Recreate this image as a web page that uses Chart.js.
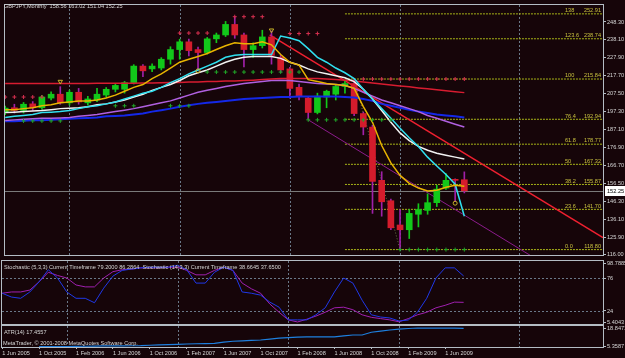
<!DOCTYPE html>
<html>
<head>
<meta charset="utf-8">
<script src="https://cdn.jsdelivr.net/npm/chart.js@4.4.0/dist/chart.umd.min.js"></script>
<style>
  body { margin: 0; background: #160509; width: 625px; height: 358px; overflow: hidden; position: relative; }
  canvas { position: absolute; left: 0; }
</style>
</head>
<body>
<canvas id="mainChart" width="625" height="260" style="top:0px"></canvas>
<canvas id="stochChart" width="625" height="65" style="top:260px"></canvas>
<canvas id="atrChart" width="625" height="33" style="top:325px"></canvas>
<script>
// GBPJPY monthly, bar 0 = Jun 2005 ... bar 50 = Aug 2009
const OPEN  = [197.0, 199.5, 198.0, 201.7, 199.5, 205.0, 207.2, 202.3, 208.3, 202.3,
               203.9, 206.7, 210.0, 210.0, 213.8, 223.2, 221.6, 222.1, 227.1, 232.6,
               237.0, 232.6, 230.9, 238.7, 240.9, 246.9, 240.9, 232.6, 234.8, 239.8,
               228.2, 221.6, 211.1, 205.0, 196.8, 205.6, 207.2, 211.6, 213.3, 196.2,
               188.5, 158.2, 146.6, 132.8, 130.1, 138.9, 141.1, 145.5, 153.8, 158.5, 158.56];
const HIGH  = [200.5, 201.5, 202.5, 203.0, 206.5, 208.5, 211.5, 209.5, 210.5, 206.0,
               210.5, 211.0, 213.0, 214.5, 224.0, 224.0, 224.5, 228.0, 234.2, 238.5,
               238.5, 234.0, 239.5, 242.0, 248.6, 251.3, 242.0, 236.5, 243.6, 243.1,
               229.5, 222.5, 213.0, 206.0, 207.8, 209.5, 212.2, 214.5, 215.84, 197.0,
               189.5, 163.1, 147.5, 141.6, 141.6, 144.9, 150.5, 155.4, 162.0, 159.0, 163.02];
const LOW   = [195.5, 196.5, 196.5, 198.0, 198.5, 204.0, 201.5, 201.0, 201.5, 201.0,
               203.0, 205.5, 208.5, 207.8, 213.0, 217.2, 220.0, 221.0, 224.3, 227.1,
               229.0, 221.0, 230.0, 236.5, 240.0, 239.0, 222.7, 228.2, 233.5, 224.3,
               219.5, 205.0, 204.0, 192.9, 196.0, 199.5, 203.9, 207.8, 195.0, 184.1,
               139.4, 137.8, 130.1, 118.8, 125.1, 131.7, 138.9, 143.3, 153.0, 146.0, 151.04];
const CLOSE = [199.3, 198.0, 201.5, 199.5, 205.6, 207.2, 202.3, 208.3, 202.8, 204.5,
               207.2, 210.0, 212.2, 213.8, 223.2, 220.5, 223.2, 227.1, 232.6, 237.0,
               232.0, 230.9, 238.7, 240.9, 246.9, 240.9, 232.6, 234.8, 239.8, 229.3,
               221.0, 210.5, 206.1, 196.8, 206.1, 208.9, 211.6, 213.3, 196.2, 188.5,
               157.6, 146.0, 131.2, 130.1, 139.4, 141.6, 145.5, 153.2, 158.2, 158.2, 152.25];

// moving averages on the price panel
const MA_YELLOW = [198.4, 198.4, 199.0, 199.5, 200.6, 201.2, 202.3, 202.8, 203.4, 203.4,
                   203.9, 205.0, 206.7, 208.9, 211.1, 212.7, 216.1, 218.8, 222.1, 225.4,
                   227.1, 228.7, 230.4, 232.6, 234.8, 236.5, 235.9, 235.9, 237.0, 235.3,
                   229.8, 225.4, 223.8, 215.5, 214.4, 213.3, 212.7, 212.2, 210.5, 200.1,
                   191.2, 178.0, 168.1, 161.0, 156.5, 153.8, 152.1, 152.6, 154.3, 155.4, 154.9];
const MA_WHITE  = [196.8, 197.0, 197.3, 197.6, 197.9, 198.4, 199.0, 199.2, 199.5, 200.1,
                   201.2, 201.7, 202.8, 203.9, 205.6, 207.2, 209.4, 211.1, 212.7, 215.0,
                   217.7, 219.4, 221.0, 223.2, 225.4, 227.1, 228.2, 228.7, 228.7, 228.7,
                   227.6, 225.4, 223.8, 221.6, 219.9, 218.8, 217.7, 216.6, 214.4, 210.0,
                   204.5, 197.9, 191.2, 185.2, 180.8, 177.5, 175.3, 173.6, 172.5, 171.4, 170.3];
const MA_CYAN   = [194.0, 194.6, 195.1, 195.7, 196.8, 197.0, 197.3, 197.9, 199.0, 200.1,
                   200.6, 201.7, 202.8, 204.5, 206.1, 207.8, 208.9, 211.1, 213.8, 216.1,
                   218.8, 221.0, 223.2, 225.4, 228.2, 229.3, 229.8, 229.8, 229.8, 229.8,
                   240.3, 239.2, 237.6, 233.1, 228.2, 225.4, 222.1, 219.4, 216.1, 210.0,
                   204.5, 199.0, 193.5, 187.9, 182.4, 177.5, 171.4, 166.4, 161.5, 156.0, 137.8];
const MA_PURPLE = [192.3, 192.6, 192.9, 193.2, 193.5, 193.5, 193.7, 194.0, 194.6, 195.1,
                   195.7, 196.5, 197.3, 198.1, 199.0, 200.1, 201.2, 202.3, 203.4, 205.0,
                   206.7, 208.3, 209.4, 210.5, 211.6, 212.5, 213.3, 213.8, 214.4, 215.0,
                   215.2, 215.0, 214.4, 213.8, 213.3, 213.0, 212.7, 212.2, 210.5, 208.3,
                   206.1, 203.9, 202.3, 200.6, 199.0, 197.3, 195.1, 193.5, 191.8, 190.1, 188.5];
const MA_BLUE   = [191.8, 191.8, 192.1, 192.4, 192.4, 192.6, 192.9, 193.2, 193.5, 193.7,
                   194.0, 194.6, 194.8, 195.1, 195.7, 196.2, 197.3, 198.1, 199.0, 200.1,
                   200.9, 201.7, 202.3, 202.8, 203.4, 203.9, 204.5, 204.8, 205.0, 205.3,
                   205.6, 205.6, 205.9, 205.9, 205.9, 205.9, 205.9, 205.6, 205.3, 204.5,
                   203.4, 201.7, 200.6, 199.5, 198.4, 197.3, 196.5, 195.7, 195.1, 194.6, 194.0];
const MA_RED    = [213.3, 213.3, 213.3, 213.3, 213.3, 213.3, 213.3, 213.3, 213.3, 213.3,
                   213.4, 213.4, 213.4, 213.5, 213.5, 213.6, 213.6, 213.7, 213.8, 213.85,
                   214.1, 214.1, 214.4, 214.4, 214.7, 214.7, 215.0, 215.2, 215.5, 215.8,
                   216.1, 216.1, 216.1, 216.1, 216.1, 215.8, 215.5, 215.2, 214.7, 214.1,
                   213.6, 213.0, 212.5, 211.9, 211.4, 210.8, 210.3, 209.7, 209.2, 208.6, 208.1];

// lower panels
const STOCH_FAST = [52, 46, 44, 54, 70, 89, 76, 54, 44, 44,
                    37, 60, 79, 88, 90, 92, 93, 93, 93, 96,
                    89, 68, 68, 85, 93, 88, 54, 52, 49, 38,
                    30, 10, 10, 10, 18, 29, 54, 76, 68, 41,
                    18, 14.5, 13, 8.2, 9.8, 22, 44, 76, 92, 92, 79.2];
const STOCH_SLOW = [52, 54, 54, 57, 70, 85, 80, 76, 65, 62,
                    62, 76, 86, 89, 90, 92, 92, 92, 93, 93,
                    88, 81, 81, 88, 93, 88, 68, 59, 52, 35,
                    22, 10, 6.7, 11, 16, 22, 29, 30, 26, 18,
                    14, 12, 10, 7, 12, 18, 22, 29, 33, 38, 37.65];
const ATR = [null, null, null, null, 5.36, 5.4, 5.45, 5.5, 5.6, 5.7,
             5.8, 5.9, 6.0, 6.0, 6.05, 6.1, 6.4, 6.7, 6.9, 7.1,
             7.3, 7.5, 7.6, 7.8, 8.6, 9.3, 9.6, 9.9, 10.2, 10.8,
             11.5, 11.9, 12.2, 12.4, 12.4, 12.4, 12.5, 13.2, 13.8, 13.8,
             15.8, 16.6, 17.4, 18.1, 18.5, 18.85, 18.8, 18.8, 18.75, 18.7, 18.6];

// axes
const X_LABELS = ['1 Jun 2005', '1 Oct 2005', '1 Feb 2006', '1 Jun 2006', '1 Oct 2006', '1 Feb 2007',
                  '1 Jun 2007', '1 Oct 2007', '1 Feb 2008', '1 Jun 2008', '1 Oct 2008', '1 Feb 2009', '1 Jun 2009'];
const X_LABEL_BARS = [0, 4, 8, 12, 16, 20, 24, 28, 32, 36, 40, 44, 48];
const YEAR_LINES = [7, 19, 31, 43, 56];
const PRICE_TICKS = [248.30, 238.10, 227.90, 217.70, 207.50, 197.30, 187.10, 176.90,
                     166.70, 156.50, 146.30, 136.10, 125.90, 116.00];
const STOCH_TICKS = [98.7885, 76, 24, 5.4043];
const STOCH_LEVELS = [76, 24];
const ATR_TICKS = [18.8471, 5.3587];

// objects on the chart
const FIB_RATIOS = ['138', '123.6', '100', '76.4', '61.8', '50', '38.2', '23.6', '0.0'];
const FIB_PRICES = [252.91, 238.74, 215.84, 192.94, 178.77, 167.32, 155.87, 141.70, 118.80];
const FIB_START = 37;
const RED_TREND = [[28.8, 240.9], [65.1, 125.6]];
const PURPLE_TREND = [[33, 192.6], [57.5, 114.5]];
const ZIGZAG = [[38, 215.84], [43, 118.80]];
const RES_DOTS = [[0, 205.6], [1, 205.6], [2, 205.6], [3, 205.6], [4, 205.6],
                  [19, 242.0], [20, 242.0], [21, 242.0], [22, 242.0],
                  [25, 251.3], [26, 251.3], [27, 251.3], [28, 251.3],
                  [31, 241.7], [32, 241.7], [33, 241.7], [34, 241.7],
                  [39, 215.84], [40, 215.84], [41, 215.84], [42, 215.84], [43, 215.84], [44, 215.84],
                  [45, 215.84], [46, 215.84], [47, 215.84], [48, 215.84], [49, 215.84], [50, 215.84]];
const SUP_DOTS = [[2, 192.0], [3, 192.0], [4, 192.0], [5, 192.0], [6, 192.0],
                  [12, 200.6], [13, 200.6], [14, 200.6], [18, 200.6], [19, 200.6], [20, 200.6],
                  [22, 219.8], [23, 219.8], [24, 219.8], [25, 219.8], [26, 219.8], [27, 219.8],
                  [28, 219.8], [29, 219.8], [30, 219.8], [31, 219.8], [32, 219.8],
                  [33, 192.6], [34, 192.6], [35, 192.6], [36, 192.6], [37, 192.6], [38, 192.6],
                  [39, 192.6], [40, 192.6], [41, 192.6], [42, 192.6],
                  [43, 118.8], [44, 118.8], [45, 118.8], [46, 118.8], [47, 118.8], [48, 118.8],
                  [49, 118.8], [50, 118.8]];
const FRACTALS = [[6, 214.4], [29, 243.6]];
const CIRCLES = [[21, 220.5], [49, 145.2]];

const X_MIN = -0.02, X_MAX = 65.1;
const FONT = { family: 'Liberation Sans', size: 5.6 };
const FONT_STR = '5.6px "Liberation Sans"';
const TXT = '#d6d6d6';
const FRAME = '#b4bcc4';
const GRID = '#6a7888';
const BULL = '#12c81a', BEAR = '#d41c2c', BEAR_WICK = '#a020a8';

const pts = arr => arr.map((v, i) => ({ x: i, y: v }));
const pairs = arr => arr.map(([x, y]) => ({ x, y }));
const up = CLOSE.map((c, i) => c >= OPEN[i]);
const last = CLOSE.length - 1;

function yAxis(min, max, ticks, fmt) {
  return {
    position: 'right', min, max,
    afterBuildTicks: s => { s.ticks = ticks.map(v => ({ value: v })); },
    afterFit: s => { s.width = 22; s.paddingTop = 0; s.paddingBottom = 0; },
    grid: { drawOnChartArea: false, drawTicks: true, tickLength: 3, color: FRAME },
    border: { color: FRAME },
    ticks: { color: TXT, font: FONT, padding: 1, autoSkip: false, callback: fmt }
  };
}

function xAxis(show) {
  return {
    type: 'linear', min: X_MIN, max: X_MAX, offset: false, display: show,
    afterBuildTicks: s => { s.ticks = X_LABEL_BARS.map(v => ({ value: v })); },
    afterFit: s => {
      if (!show) return;
      s.height = 11; s.paddingLeft = 0; s.paddingRight = 0;
    },
    grid: { drawOnChartArea: false, drawTicks: true, tickLength: 2, color: FRAME },
    border: { color: FRAME },
    ticks: { color: TXT, font: FONT, padding: 1, align: 'start', maxRotation: 0, autoSkip: false,
             callback: (v, i) => X_LABELS[i] }
  };
}

// year grid, level lines, frame and texts of a panel
function panelPlugin(opts) {
  return {
    id: 'panel',
    beforeDatasetsDraw(chart) {
      const { ctx, chartArea: a, scales } = chart;
      ctx.save();
      ctx.strokeStyle = GRID;
      ctx.lineWidth = 1;
      ctx.setLineDash([2, 2]);
      YEAR_LINES.forEach(v => {
        const x = Math.round(scales.x.getPixelForValue(v)) + 0.5;
        ctx.beginPath(); ctx.moveTo(x, a.top); ctx.lineTo(x, a.bottom); ctx.stroke();
      });
      (opts.levels || []).forEach(v => {
        const y = Math.round(scales.y.getPixelForValue(v)) + 0.5;
        ctx.beginPath(); ctx.moveTo(a.left, y); ctx.lineTo(a.right, y); ctx.stroke();
      });
      ctx.setLineDash([]);
      if (opts.priceLine != null) {
        const y = Math.round(scales.y.getPixelForValue(opts.priceLine)) + 0.5;
        ctx.strokeStyle = '#7a7a7a';
        ctx.beginPath(); ctx.moveTo(a.left, y); ctx.lineTo(a.right, y); ctx.stroke();
      }
      ctx.restore();
    },
    afterDraw(chart) {
      const { ctx, chartArea: a, scales } = chart;
      ctx.save();
      ctx.strokeStyle = FRAME;
      ctx.lineWidth = 1;
      ctx.strokeRect(a.left - 0.5, a.top - 0.5, a.right - a.left + 1, a.bottom - a.top + 1);
      ctx.font = FONT_STR;
      ctx.fillStyle = TXT;
      ctx.textBaseline = 'middle';
      (opts.texts || []).forEach(([t, x, y]) => ctx.fillText(t, x, y));
      if (opts.fib) {
        ctx.fillStyle = '#c8c040';
        ctx.textBaseline = 'bottom';
        FIB_PRICES.forEach((p, k) => {
          const y = scales.y.getPixelForValue(p) - 0.5;
          ctx.textAlign = 'left';
          ctx.fillText(FIB_RATIOS[k], a.right - 38, y);
          ctx.textAlign = 'right';
          ctx.fillText(p.toFixed(2), a.right - 2, y);
        });
      }
      if (opts.priceLine != null) {
        const y = Math.round(scales.y.getPixelForValue(opts.priceLine));
        ctx.fillStyle = '#ffffff';
        ctx.fillRect(a.right + 2, y - 5, 20, 10);
        ctx.fillStyle = '#000000';
        ctx.textAlign = 'left';
        ctx.textBaseline = 'middle';
        ctx.fillText(opts.priceLine.toFixed(2), a.right + 4, y + 0.5);
      }
      ctx.restore();
    }
  };
}

const common = {
  responsive: false,
  animation: false,
  events: [],
  plugins: { legend: { display: false }, tooltip: { enabled: false } }
};

function line(data, color, width, order, extra) {
  return Object.assign({ type: 'line', data, borderColor: color, borderWidth: width,
    pointRadius: 0, tension: 0, fill: false, order }, extra || {});
}
function dots(data, color, style, order) {
  return { type: 'line', data, showLine: false, pointStyle: style, pointRadius: 2,
    pointBorderWidth: 1, pointBorderColor: color, pointBackgroundColor: color, order };
}

// price panel
const fibSets = FIB_PRICES.map(p => line([{ x: FIB_START, y: p }, { x: X_MAX, y: p }],
  '#a8b418', 1, 20, { borderDash: [2, 1] }));

new Chart(document.getElementById('mainChart'), {
  type: 'bar',
  data: {
    datasets: [
      ...fibSets,
      line(pairs(RED_TREND), '#ee2030', 1.5, 15),
      line(pairs(PURPLE_TREND), '#8c1c8c', 1, 15),
      line(pairs(ZIGZAG), '#6f7a4a', 1, 15, { borderDash: [1, 2] }),
      { type: 'bar', order: 12, grouped: false, barThickness: 1,
        data: LOW.map((l, i) => ({ x: i, y: [l, HIGH[i]] })),
        backgroundColor: up.map(u => u ? BULL : BEAR_WICK) },
      { type: 'bar', order: 11, grouped: false, barThickness: 6, minBarLength: 1,
        data: OPEN.map((o, i) => ({ x: i, y: [o, CLOSE[i]] })),
        backgroundColor: up.map(u => u ? BULL : BEAR) },
      line(pts(MA_BLUE), '#1428e8', 2, 6),
      line(pts(MA_PURPLE), '#b060e0', 1.5, 5),
      line(pts(MA_RED), '#d81c30', 1.5, 4),
      line(pts(MA_WHITE), '#f2f2f2', 1.5, 3),
      line(pts(MA_CYAN), '#30e0f0', 1.5, 2),
      line(pts(MA_YELLOW), '#e8b400', 1.5, 1),
      dots(pairs(RES_DOTS), '#d83050', 'cross', 0),
      dots(pairs(SUP_DOTS), '#20a828', 'cross', 0),
      { type: 'line', data: pairs(FRACTALS), showLine: false, pointStyle: 'triangle', rotation: 180,
        pointRadius: 2.5, pointBorderWidth: 1, pointBorderColor: '#c8b428', pointBackgroundColor: 'transparent', order: 0 },
      { type: 'line', data: pairs(CIRCLES), showLine: false, pointStyle: 'circle',
        pointRadius: 2, pointBorderWidth: 1, pointBorderColor: '#c8b428', pointBackgroundColor: 'transparent', order: 0 }
    ]
  },
  options: Object.assign({}, common, {
    layout: { padding: { left: 2, top: 1, bottom: 1, right: 0 } },
    scales: {
      x: xAxis(false),
      y: yAxis(115.73, 257.95, PRICE_TICKS, v => v.toFixed(2))
    }
  }),
  plugins: [panelPlugin({
    fib: true,
    priceLine: CLOSE[last],
    texts: [['GBPJPY,Monthly  ' + [OPEN[last], HIGH[last], LOW[last], CLOSE[last]].map(v => v.toFixed(2)).join(' '), 4, 6]]
  })]
});

// stochastic panel
new Chart(document.getElementById('stochChart'), {
  type: 'line',
  data: {
    datasets: [
      line(pts(STOCH_SLOW), '#a020b0', 1, 2),
      line(pts(STOCH_FAST), '#2038e8', 1, 1)
    ]
  },
  options: Object.assign({}, common, {
    layout: { padding: { left: 2, top: 1, bottom: 1, right: 0 } },
    scales: {
      x: xAxis(false),
      y: yAxis(3.5, 102.8, STOCH_TICKS, v => String(v))
    }
  }),
  plugins: [panelPlugin({
    levels: STOCH_LEVELS,
    texts: [['Stochastic (5,3,3) Current Timeframe ' + STOCH_FAST[last].toFixed(4) + ' 86.2864  Stochastic (14,3,3) Current Timeframe 38.6645 ' + STOCH_SLOW[last].toFixed(4), 4, 7]]
  })]
});

// ATR panel with the time axis
new Chart(document.getElementById('atrChart'), {
  type: 'line',
  data: {
    datasets: [line(pts(ATR), '#1e80e0', 1.2, 1)]
  },
  options: Object.assign({}, common, {
    layout: { padding: { left: 2, top: 1, bottom: 0, right: 0 } },
    scales: {
      x: xAxis(true),
      y: yAxis(5.15, 20.29, ATR_TICKS, v => String(v))
    }
  }),
  plugins: [panelPlugin({
    texts: [['ATR(14) 17.4557', 4, 7], ['MetaTrader, \u00a9 2001-2008 MetaQuotes Software Corp.', 3, 18]]
  })]
});
</script>
</body>
</html>
